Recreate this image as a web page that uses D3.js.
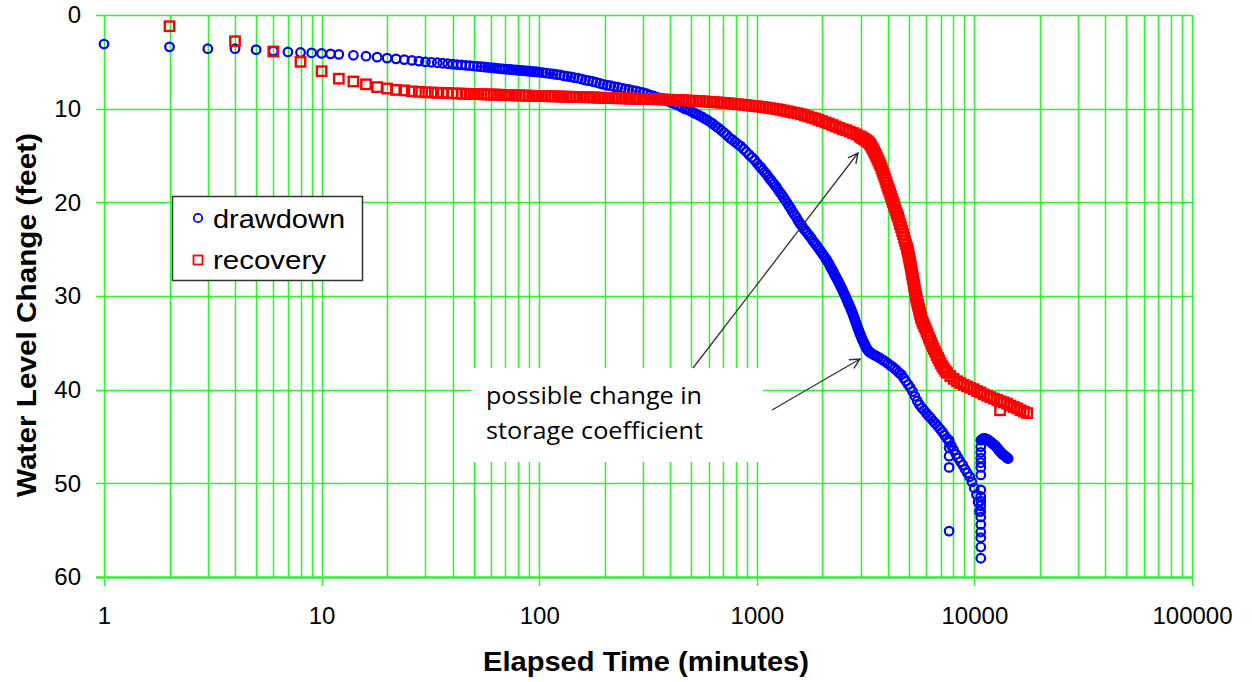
<!DOCTYPE html>
<html><head><meta charset="utf-8">
<script src="https://cdn.jsdelivr.net/npm/d3@7"></script>
<style>
html,body{margin:0;padding:0;background:#fff;}
svg{display:block;}
</style></head>
<body>
<svg id="chart" width="1252" height="682"></svg>
<script>
// ---------- data ----------
const xTickValues = [1, 10, 100, 1000, 10000, 100000];
const xTickLabels = ["1", "10", "100", "1000", "10000", "100000"];
const yTickValues = [0, 10, 20, 30, 40, 50, 60];
const yTickLabels = ["0", "10", "20", "30", "40", "50", "60"];
const seriesNames = ["drawdown", "recovery"];

// drawdown: [elapsed minutes, water level change (ft)]
const drawdownEarly = [[1,3.1],[2,3.4],[3,3.6],[4,3.6],[5,3.7],[6,3.85],[7,3.95],[8,4.0],[9,4.05],[10,4.1],[11,4.15],[12,4.2],
 [14,4.3],[16,4.4],[18,4.5],[20,4.6],[22,4.68],[24,4.76],[26,4.84],[28,4.92],[30,5.0],[32,5.05],[34,5.1],[36,5.15],[38,5.2],[40,5.25],
 [42,5.3],[44,5.33],[46,5.37],[48,5.4],[50,5.45],[52,5.48],[54,5.52],[56,5.55],[58,5.6],[60,5.63],[62,5.66],[64,5.69],[66,5.72],
 [68,5.75],[70,5.77],[72,5.8],[74,5.82],[76,5.85],[78,5.87],[80,5.9],[82,5.92],[84,5.94],[86,5.96],[88,5.98],[90,6.0],[92,6.02],
 [94,6.04],[96,6.06],[98,6.08]];
const drawdownBand = [[100,6.1],[104,6.15],[108,6.2],[112,6.25],[116,6.3],[120,6.35],[125,6.4],[130,6.5],[135,6.55],[140,6.6],
 [145,6.7],[151,6.75],[157,6.85],[163,6.95],[169,7.0],[176,7.1],[183,7.2],[190,7.3],[197,7.4],[205,7.5],[213,7.55],[221,7.65],
 [230,7.7],[239,7.8],[248,7.9],[258,7.95],[268,8.05],[278,8.1],[289,8.2],[300,8.3],[312,8.4],[324,8.55],[336,8.65],[349,8.8],
 [362,8.9],[376,9.05],[390,9.2],[405,9.35],[420,9.5],[436,9.65],[452,9.85],[466,10.0],[480,10.1],[495,10.25],[510,10.4],
 [525,10.55],[541,10.7],[557,10.85],[574,11.05],[591,11.2],[609,11.4],[627,11.6],[646,11.85],[665,12.05],[685,12.3],[706,12.55],
 [727,12.8],[749,13.1],[771,13.3],[794,13.55],[818,13.8],[843,14.0],[868,14.3],[894,14.6],[921,14.9],[949,15.2],[977,15.5],
 [1006,15.85],[1026,16.1],[1046,16.3],[1067,16.55],[1088,16.8],[1110,17.0],[1132,17.3],[1154,17.55],[1177,17.8],[1200,18.05],
 [1224,18.3],[1248,18.6],[1273,18.9],[1298,19.15],[1324,19.45],[1350,19.75],[1377,20.05],[1404,20.35],[1432,20.65],[1460,21.0],
 [1489,21.3],[1518,21.6],[1548,21.95],[1579,22.25],[1610,22.5],[1642,22.8],[1674,23.05],[1707,23.3],[1741,23.55],[1775,23.8],
 [1810,24.1],[1846,24.35],[1882,24.6],[1919,24.9],[1957,25.15],[1996,25.45],[2035,25.7],[2075,26.0],[2100,26.2],[2125,26.4],
 [2150,26.6],[2175,26.85],[2200,27.05],[2225,27.25],[2250,27.45],[2275,27.7],[2300,27.9],[2325,28.1],[2350,28.3],[2375,28.5],
 [2400,28.7],[2425,28.9],[2450,29.15],[2475,29.35],[2500,29.6],[2525,29.8],[2550,30.0],[2575,30.25],[2600,30.45],[2625,30.7],
 [2650,30.9],[2675,31.1],[2700,31.35],[2725,31.55],[2750,31.8],[2775,32.05],[2800,32.3],[2825,32.55],[2850,32.8],[2875,33.05],
 [2900,33.3],[2925,33.55],[2950,33.75],[2975,34.0],[3000,34.2],[3030,34.45],[3060,34.7],[3090,34.9],[3120,35.1],[3150,35.3],
 [3180,35.5],[3210,35.65],[3240,35.8],[3270,35.9],[3300,36.0],[3380,36.15],[3460,36.3],[3540,36.4],[3630,36.55],[3720,36.7],
 [3810,36.85],[3900,37.0],[4000,37.2],[4100,37.4],[4200,37.55],[4300,37.75],[4400,37.95],[4510,38.2],[4620,38.4],[4730,38.75],
 [4840,39.1],[4960,39.45],[5080,39.8],[5200,40.2],[5330,40.7],[5460,41.2],[5590,41.6],[5730,41.95],[5870,42.2],[6010,42.5],
 [6160,42.8],[6310,43.05],[6460,43.35],[6620,43.6],[6780,43.9],[6950,44.2],[7120,44.5],[7290,44.85],[7470,45.2],[7650,45.6],
 [7840,46.0],[8030,46.45],[8230,46.9],[8430,47.3],[8630,47.7],[8840,48.05],[9060,48.5],[9280,48.9],[9510,49.3],[9740,49.85],
 [9980,50.5],[10220,51.2],[10400,52.0],[10550,53.0]];
const drawdownTail = [[10700,45.4],[10700,46.1],[10700,46.7],[10700,47.3],[10700,47.8],[10700,48.3],[10700,49.1],[10700,50.7],
 [10700,51.4],[10700,51.9],[10700,52.4],[10700,53.0],[10700,53.6],[10700,54.4],[10700,55.2],[10700,55.8],[10700,56.8],[10700,58.0],
 [10850,45.3],[11000,45.2],[11150,45.2],[11300,45.25],[11450,45.3],[11600,45.4],[11750,45.5],[11900,45.6],[12050,45.7],
 [12200,45.8],[12350,45.9],[12500,46.0],[12650,46.15],[12800,46.3],[12950,46.45],[13100,46.6],[13250,46.7],[13400,46.85],
 [13550,46.95],[13700,47.0],[13850,47.1],[14000,47.2],[14150,47.3],[14300,47.35]];
const drawdownScatter = [[7650,45.4],[7650,46.2],[7650,47.1],[7650,48.3],[7650,55.1]];

// recovery: [elapsed minutes, water level change (ft)]
const recoveryEarly = [[2,1.2],[4,2.8],[6,3.9],[8,5.0],[10,6.0],[12,6.8],[14,7.1],[16,7.4],[18,7.7],[20,7.85],[22,8.0],[24,8.05],
 [26,8.15],[28,8.2],[30,8.25],[32,8.28],[34,8.3],[36,8.32],[38,8.34],[40,8.36],[42,8.38],[44,8.4],[46,8.41],[48,8.42],[50,8.44],
 [52,8.45],[54,8.46],[56,8.47],[58,8.48],[60,8.5]];
const recoveryBand = [[62,8.5],[64,8.5],[66,8.52],[68,8.53],[70,8.55],[72,8.56],[75,8.57],[78,8.58],[81,8.59],[84,8.6],[87,8.61],
 [90,8.62],[94,8.63],[98,8.64],[102,8.65],[106,8.66],[110,8.67],[114,8.68],[118,8.69],[123,8.7],[128,8.71],[133,8.72],[138,8.73],
 [143,8.74],[148,8.75],[154,8.76],[160,8.77],[166,8.78],[172,8.79],[179,8.8],[186,8.82],[193,8.83],[200,8.85],[208,8.86],[216,8.87],
 [224,8.88],[232,8.89],[241,8.9],[250,8.91],[260,8.92],[270,8.93],[280,8.94],[291,8.95],[302,8.95],[313,8.96],[325,8.97],[337,8.98],
 [350,9.0],[363,9.01],[377,9.03],[391,9.04],[406,9.06],[421,9.07],[437,9.09],[454,9.1],[471,9.12],[489,9.14],[507,9.16],[526,9.18],
 [546,9.2],[567,9.22],[588,9.25],[610,9.28],[633,9.3],[657,9.33],[682,9.36],[708,9.39],[735,9.42],[763,9.45],[792,9.49],[822,9.53],
 [853,9.57],[885,9.61],[918,9.65],[953,9.7],[989,9.74],[1026,9.78],[1065,9.83],[1105,9.88],[1147,9.94],[1190,10.0],[1235,10.05],
 [1282,10.12],[1330,10.2],[1380,10.28],[1432,10.36],[1486,10.44],[1542,10.5],[1600,10.6],[1660,10.72],[1722,10.83],[1787,10.95],
 [1854,11.05],[1923,11.2],[1995,11.33],[2070,11.47],[2147,11.6],[2227,11.75],[2310,11.9],[2396,12.05],[2485,12.2],[2577,12.3],
 [2672,12.45],[2770,12.6],[2870,12.75],[2970,12.95],[3020,13.05],[3060,13.15],[3100,13.22],[3140,13.3],[3180,13.38],[3220,13.48],
 [3260,13.6],[3300,13.72],[3340,13.92],[3380,14.12],[3420,14.35],[3460,14.58],[3500,14.8],[3540,15.05],[3580,15.3],[3620,15.55],
 [3660,15.8],[3700,16.05],[3740,16.35],[3780,16.65],[3820,16.95],[3860,17.25],[3900,17.55],[3940,17.9],[3980,18.2],[4020,18.5],
 [4060,18.75],[4100,19.05],[4140,19.35],[4180,19.65],[4220,19.95],[4260,20.2],[4300,20.5],[4340,20.8],[4380,21.1],[4420,21.35],
 [4460,21.6],[4500,21.9],[4550,22.3],[4600,22.65],[4650,23.05],[4700,23.4],[4750,23.8],[4800,24.15],[4850,24.5],[4900,24.85],
 [4925,25.05],[4950,25.3],[4975,25.55],[5000,25.8],[5025,26.05],[5050,26.3],[5075,26.55],[5100,26.85],[5125,27.1],[5150,27.4],
 [5175,27.7],[5200,27.95],[5225,28.2],[5250,28.5],[5275,28.8],[5300,29.05],[5325,29.3],[5350,29.6],[5375,29.85],[5400,30.1],
 [5430,30.35],[5460,30.6],[5490,30.85],[5520,31.05],[5550,31.3],[5580,31.5],[5610,31.75],[5640,31.95],[5670,32.2],[5700,32.4],
 [5760,32.7],[5820,32.95],[5890,33.25],[5960,33.5],[6030,33.8],[6100,34.1],[6180,34.45],[6260,34.75],[6340,35.05],[6420,35.35],
 [6500,35.65],[6600,35.95],[6700,36.3],[6800,36.6],[6900,36.9],[7000,37.2],[7120,37.5],[7240,37.75],[7360,38.0],[7480,38.2],
 [7750,38.55],[8030,38.85],[8320,39.1],[8620,39.3],[8930,39.5],[9250,39.65],[9580,39.8],[9930,39.95],[10290,40.15],[10660,40.3],
 [11040,40.5],[11440,40.65],[11850,40.8],[12280,40.95],[12720,41.1],[13180,41.25],[13650,41.35],[14140,41.5],[14650,41.7],
 [15180,41.85],[15730,42.0],[16290,42.2],[16880,42.35],[17480,42.5]];
const recoveryScatter = [[13120,42.2]];

const annotationLines = ["possible change in", "storage coefficient"];
const xTitle = "Elapsed Time (minutes)";
const yTitle = "Water Level Change (feet)";

// ---------- drawing ----------
const svg = d3.select("#chart");
const plotLeft = 104, plotRight = 1192, plotTop = 15, plotBottom = 577;
const x = d3.scaleLog().domain([1, 100000]).range([plotLeft, plotRight]);
const y = d3.scaleLinear().domain([0, 60]).range([plotTop, plotBottom]);
const GRID = "#33f033";
const SANS = "Liberation Sans, Arial, sans-serif";

// minor + major vertical gridlines
const vLines = [];
for (let d = 1; d < 100000; d *= 10) for (let k = 1; k < 10; k++) vLines.push(d * k);
vLines.push(100000);
svg.append("g").selectAll("line").data(vLines).join("line")
  .attr("x1", d => Math.round(x(d)) + 0.5).attr("x2", d => Math.round(x(d)) + 0.5)
  .attr("y1", plotTop).attr("y2", d => xTickValues.includes(d) ? plotBottom + 9 : plotBottom)
  .attr("stroke", GRID).attr("stroke-width", 1.5);
// horizontal gridlines
svg.append("g").selectAll("line").data(yTickValues).join("line")
  .attr("x1", plotLeft - 8).attr("x2", plotRight)
  .attr("y1", d => Math.round(y(d)) + 0.5).attr("y2", d => Math.round(y(d)) + 0.5)
  .attr("stroke", GRID).attr("stroke-width", d => d === 60 ? 2.4 : 1.5);

// axes labels via d3 axes (domain/ticks hidden, labels kept)
const xAxis = d3.axisBottom(x).tickValues(xTickValues).tickFormat((d, i) => xTickLabels[i]).tickSize(0).tickPadding(0);
const gx = svg.append("g").attr("transform", `translate(0,${plotBottom + 47})`).call(xAxis);
gx.select(".domain").remove();
gx.selectAll("text").attr("font-family", SANS).attr("font-size", 24).attr("fill", "#000").attr("dy", 0);

const yAxis = d3.axisLeft(y).tickValues(yTickValues).tickFormat((d, i) => yTickLabels[i]).tickSize(0).tickPadding(0);
const gy = svg.append("g").attr("transform", `translate(${plotLeft - 23},0)`).call(yAxis);
gy.select(".domain").remove();
gy.selectAll("text").attr("font-family", SANS).attr("font-size", 24).attr("fill", "#000");

// axis titles
svg.append("text").attr("x", 646).attr("y", 671).attr("text-anchor", "middle")
  .attr("font-family", SANS).attr("font-weight", "bold").attr("font-size", 28)
  .attr("textLength", 326).attr("lengthAdjust", "spacingAndGlyphs")
  .text(xTitle);
svg.append("text").attr("transform", `translate(36,315) rotate(-90)`).attr("text-anchor", "middle")
  .attr("font-family", SANS).attr("font-weight", "bold").attr("font-size", 27)
  .attr("textLength", 364).attr("lengthAdjust", "spacingAndGlyphs")
  .text(yTitle);

// annotation box (white, covers gridlines)
svg.append("rect").attr("x", 471).attr("y", 368).attr("width", 292).attr("height", 94).attr("fill", "#fff");

// markers
const BLUE = "#0000ff", RED = "#ff0000";
const drawCircles = (data) => svg.append("g").selectAll("circle").data(data).join("circle")
  .attr("cx", d => x(d[0])).attr("cy", d => y(d[1])).attr("r", 4.3)
  .attr("fill", "none").attr("stroke", BLUE).attr("stroke-width", 2.2);
const drawSquares = (data) => svg.append("g").selectAll("rect").data(data).join("rect")
  .attr("x", d => x(d[0]) - 4.7).attr("y", d => y(d[1]) - 4.7).attr("width", 9.4).attr("height", 9.4)
  .attr("fill", "none").attr("stroke", RED).attr("stroke-width", 2.4);

drawCircles(drawdownEarly);
drawCircles(drawdownBand);
drawCircles(drawdownTail);
drawCircles(drawdownScatter);
drawSquares(recoveryEarly);
drawSquares(recoveryBand);
drawSquares(recoveryScatter);

// annotation text
const annLens = [216, 217];
annotationLines.forEach((t, i) => svg.append("text").attr("x", 486).attr("y", 404 + i * 35)
  .attr("font-family", "Open Sans, Noto Sans, sans-serif").attr("font-size", 24).attr("fill", "#000")
  .attr("textLength", annLens[i]).attr("lengthAdjust", "spacingAndGlyphs").text(t));

// arrows
const defs = svg.append("defs");
defs.append("marker").attr("id", "arr").attr("viewBox", "0 0 12 12").attr("refX", 11).attr("refY", 6)
  .attr("markerWidth", 12).attr("markerHeight", 12).attr("markerUnits", "userSpaceOnUse").attr("orient", "auto")
  .append("path").attr("d", "M1,1 L11,6 L1,11").attr("fill", "none").attr("stroke", "#333").attr("stroke-width", 1.4);
const arrows = [[693, 368, 858, 153], [772, 410, 860, 359]];
svg.append("g").selectAll("line").data(arrows).join("line")
  .attr("x1", d => d[0]).attr("y1", d => d[1]).attr("x2", d => d[2]).attr("y2", d => d[3])
  .attr("stroke", "#333").attr("stroke-width", 1.3).attr("marker-end", "url(#arr)");

// legend
const lg = svg.append("g");
lg.append("rect").attr("x", 172.5).attr("y", 196.5).attr("width", 190).attr("height", 84)
  .attr("fill", "#fff").attr("stroke", "#333").attr("stroke-width", 1.5);
lg.append("circle").attr("cx", 198).attr("cy", 218).attr("r", 4.2).attr("fill", "none").attr("stroke", BLUE).attr("stroke-width", 1.8);
lg.append("rect").attr("x", 193.5).attr("y", 255.5).attr("width", 9).attr("height", 9).attr("fill", "none").attr("stroke", RED).attr("stroke-width", 1.8);
const legLens = [132, 113];
seriesNames.forEach((s, i) => lg.append("text").attr("x", 213).attr("y", 228 + i * 41)
  .attr("font-family", SANS).attr("font-size", 26).attr("fill", "#000")
  .attr("textLength", legLens[i]).attr("lengthAdjust", "spacingAndGlyphs").text(s));
</script>
</body></html>
